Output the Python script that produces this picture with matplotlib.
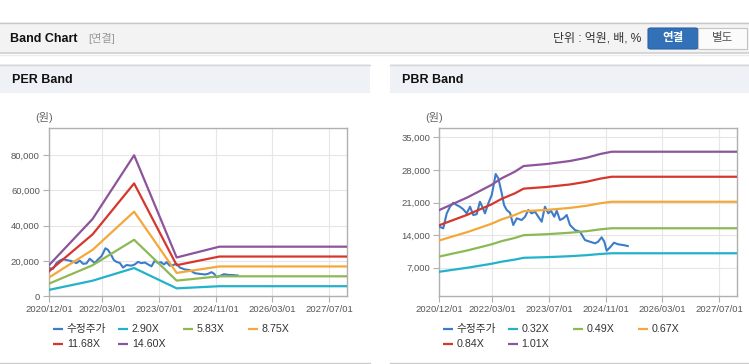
import numpy as np
import matplotlib
matplotlib.use("Agg")
import matplotlib.pyplot as plt
import matplotlib.dates as mdates
from matplotlib.patches import Rectangle, FancyBboxPatch
from matplotlib.lines import Line2D

plt.rcParams['font.family'] = ['Liberation Sans', 'Noto Sans CJK KR', 'DejaVu Sans']

# ---------------- data ----------------
price_dates = ['2020-12-03', '2021-01-04', '2021-02-03', '2021-03-03', '2021-03-31', '2021-04-29',
               '2021-05-27', '2021-06-25', '2021-07-24', '2021-08-22', '2021-09-19', '2021-10-18',
               '2021-11-15', '2021-12-05', '2021-12-28', '2022-01-26', '2022-02-24', '2022-03-10',
               '2022-03-30', '2022-04-22', '2022-05-21', '2022-06-10', '2022-07-03', '2022-07-31',
               '2022-08-28', '2022-09-27', '2022-11-08', '2022-12-07', '2023-01-04', '2023-02-01',
               '2023-03-03', '2023-03-31', '2023-04-29', '2023-05-27', '2023-06-25', '2023-07-18',
               '2023-08-15', '2023-09-05', '2023-10-03', '2023-11-01', '2023-11-30', '2023-12-28',
               '2024-02-09', '2024-03-23', '2024-05-05', '2024-06-17', '2024-07-30', '2024-08-25',
               '2024-09-25', '2024-10-18', '2024-11-07', '2024-12-06', '2025-01-09', '2025-02-15',
               '2025-03-30', '2025-05-07']
price_values = [15800, 15460, 18680, 20100, 20960, 20460,
                20100, 19540, 18680, 20100, 18300, 18500,
                21170, 20100, 18680, 20830, 22610, 24390,
                27120, 26200, 22980, 20460, 19390, 18810,
                16170, 17610, 17240, 17950, 19390, 18680,
                19030, 17950, 16880, 20100, 18680, 19240,
                17950, 19240, 17240, 17610, 18320, 16170,
                15100, 14730, 12950, 12580, 12240, 12580,
                13530, 12580, 10650, 11380, 12370, 12020,
                11870, 11660]

eps_dates = ['2020-12-01', '2021-12-10', '2022-12-01', '2023-12-01', '2024-12-01', '2027-12-01']
eps_values = [1200, 3000, 5480, 1500, 1920, 1920]
per_multiples = [2.90, 5.83, 8.75, 11.68, 14.60]
per_labels = ['2.90X', '5.83X', '8.75X', '11.68X', '14.60X']

bps_dates = ['2020-12-01', '2021-08-01', '2022-02-20', '2022-05-20', '2022-09-10', '2022-11-25',
             '2023-06-10', '2023-12-25', '2024-05-20', '2024-09-15', '2024-12-20', '2027-12-01']
bps_values = [19200, 21900, 24510, 25940, 27340, 28550,
              28980, 29610, 30320, 31120, 31590, 31590]
pbr_multiples = [0.32, 0.49, 0.67, 0.84, 1.01]
pbr_labels = ['0.32X', '0.49X', '0.67X', '0.84X', '1.01X']

price_label = '수정주가'
x_ticks = ['2020-12-01', '2022-03-01', '2023-07-01', '2024-11-01', '2026-03-01', '2027-07-01']
x_range = ['2020-12-01', '2027-12-01']
per_yticks = [0, 20000, 40000, 60000, 80000]
pbr_yticks = [7000, 14000, 21000, 28000, 35000]

colors = ['#3d7cc9', '#22b2c9', '#8db955', '#f4a83a', '#d5372d', '#8c559b']

# ---------------- figure ----------------
W, H = 749, 364
fig = plt.figure(figsize=(W / 100, H / 100), dpi=100)
fig.patch.set_facecolor('white')


def fr(x0, y0, x1, y1, **kw):
    fig.add_artist(Rectangle((x0 / W, 1 - y1 / H), (x1 - x0) / W, (y1 - y0) / H,
                             transform=fig.transFigure, **kw))


def ft(x, y, s, **kw):
    fig.text(x / W, 1 - y / H, s, **kw)


def fl(x0, y0, x1, y1, **kw):
    fig.add_artist(Line2D([x0 / W, x1 / W], [1 - y0 / H, 1 - y1 / H], transform=fig.transFigure, **kw))


# top header bar
fr(0, 22, W, 53, facecolor='#f3f3f3', edgecolor='none')
fl(0, 22.5, W, 22.5, color='#c8c8c8', lw=1)
fl(0, 53, W, 53, color='#cfcfcf', lw=1.2)
fl(0, 54.5, W, 54.5, color='#ececec', lw=1)
ft(10, 38.5, 'Band Chart', fontsize=9, fontweight='bold', color='#111111', va='center')
ft(88, 38.5, '[연결]', fontsize=8, color='#999999', va='center')
ft(641, 38.5, '단위 : 억원, 배, %', fontsize=8.6, color='#333333', va='center', ha='right')
fig.add_artist(FancyBboxPatch((648 / W, 1 - 49 / H), 50 / W, 21 / H, boxstyle='round,pad=0,rounding_size=0.004',
                              transform=fig.transFigure, facecolor='#3271b8', edgecolor='#2a62a4', lw=0.8))
fig.add_artist(Rectangle((698 / W, 1 - 49 / H), 49 / W, 21 / H, transform=fig.transFigure,
                         facecolor='#fbfbfb', edgecolor='#c4c4c4', lw=0.8))
ft(673, 38.5, '연결', fontsize=8.3, fontweight='bold', color='white', va='center', ha='center')
ft(722.5, 38.5, '별도', fontsize=8.3, color='#555555', va='center', ha='center')

# panels
for (px0, px1, title) in [(0, 370, 'PER Band'), (390, 749, 'PBR Band')]:
    fr(px0, 64, px1, 93, facecolor='#eef1f6', edgecolor='none')
    fl(px0, 64.5, px1, 64.5, color='#d6d6d6', lw=1)
    fl(px0, 362.5, px1, 362.5, color='#cccccc', lw=1)
    ft(px0 + 12, 80, title, fontsize=9, fontweight='bold', color='#111111', va='center')

to_num = lambda ds: mdates.date2num(np.array(ds, dtype='datetime64[D]'))


def make_axes(rect_px, base_values, base_dates, multiples, ylim, yticks, leg_x, labels):
    x0, y0, x1, y1 = rect_px
    ax = fig.add_axes([x0 / W, 1 - y1 / H, (x1 - x0) / W, (y1 - y0) / H])
    ax.set_facecolor('white')
    pd_ = to_num(price_dates)
    ax.plot(pd_, price_values, color=colors[0], lw=1.5, zorder=3)
    bd = to_num(base_dates)
    for i, m in enumerate(multiples):
        ax.plot(bd, np.array(base_values) * m, color=colors[i + 1], lw=1.6, zorder=3)
    ax.set_xlim(*to_num(x_range))
    ax.set_ylim(*ylim)
    ax.set_xticks(to_num(x_ticks))
    ax.set_xticklabels([d.replace('-', '/') for d in x_ticks])
    ax.set_yticks(yticks)
    ax.set_yticklabels([f'{v:,}' for v in yticks])
    ax.grid(True, color='#e6e6e6', lw=0.8, zorder=0)
    ax.set_axisbelow(True)
    for s in ax.spines.values():
        s.set_color('#b0b0b0')
        s.set_linewidth(1)
    ax.tick_params(axis='both', labelsize=6.8, labelcolor='#555555', color='#b0b0b0', length=4.5, width=0.8, pad=2)
    # y unit label
    ft(x0 - 5, 118, '(원)', fontsize=8, color='#666666', va='center', ha='center')
    # legend
    names = [price_label] + labels
    for i, name in enumerate(names):
        col, row = i % 4, i // 4
        lx = leg_x + col * 65
        ly = 329 + row * 15
        fl(lx, ly, lx + 10, ly, color=colors[i], lw=1.6, solid_capstyle='butt')
        ft(lx + 13.5, ly, name, fontsize=7.7, color='#333333', va='center')
    return ax


make_axes((49, 128, 347, 296), eps_values, eps_dates, per_multiples, (0, 95500), per_yticks, 53.3, per_labels)
make_axes((439.3, 128, 737, 295.7), bps_values, bps_dates, pbr_multiples, (1000, 37000), pbr_yticks, 442.7, pbr_labels)

fig.savefig('out.png', dpi=100)
